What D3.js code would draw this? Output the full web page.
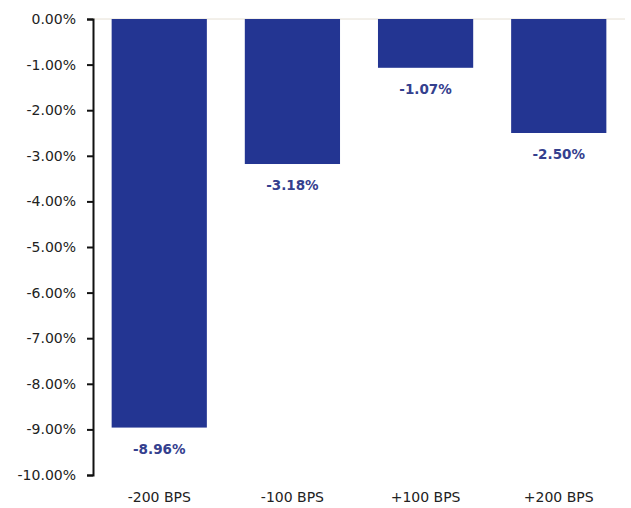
<!DOCTYPE html>
<html>
<head>
<meta charset="utf-8">
<script src="https://cdn.jsdelivr.net/npm/d3@7/dist/d3.min.js"></script>
<style>
  html, body { margin: 0; padding: 0; background: #fff; }
  svg { display: block; }
  text { font-family: "DejaVu Sans", Verdana, sans-serif; }
</style>
</head>
<body>
<svg id="chart" width="631" height="508"></svg>
<script>
// Rate-shock scenarios and the resulting change (%)
const scenarios = ["-200 BPS", "-100 BPS", "+100 BPS", "+200 BPS"];
const changes = [-8.96, -3.18, -1.07, -2.50];
const yTicks = [0, -1, -2, -3, -4, -5, -6, -7, -8, -9, -10];

const svg = d3.select("#chart");
const plotLeft = 93, plotRight = 625, plotTop = 19, plotBottom = 475;

const x = d3.scaleBand().domain(scenarios).range([plotLeft, plotRight])
  .paddingInner(0.285).paddingOuter(0.14);
const y = d3.scaleLinear().domain([0, -10]).range([plotTop, plotBottom]);

const barColor = "#233592";
const labelColor = "#34408e";
// plain hyphen-minus for negative numbers
const pct = d => (d < 0 ? "-" : "") + Math.abs(d).toFixed(2) + "%";

// faint zero baseline
svg.append("line")
  .attr("x1", plotLeft).attr("x2", plotRight)
  .attr("y1", y(0)).attr("y2", y(0))
  .attr("stroke", "#e6e0d4").attr("stroke-width", 1);

// bars
svg.append("g").selectAll("rect")
  .data(changes)
  .join("rect")
  .attr("x", (d, i) => x(scenarios[i]))
  .attr("width", x.bandwidth())
  .attr("y", y(0))
  .attr("height", d => y(d) - y(0))
  .attr("fill", barColor);

// value labels beneath each bar
svg.append("g").selectAll("text")
  .data(changes)
  .join("text")
  .attr("x", (d, i) => x(scenarios[i]) + x.bandwidth() / 2)
  .attr("y", d => y(d) + 26)
  .attr("text-anchor", "middle")
  .attr("font-size", 13.5)
  .attr("font-weight", "bold")
  .attr("fill", labelColor)
  .text(pct);

// y axis
const yAxis = d3.axisLeft(y)
  .tickValues(yTicks)
  .tickSize(6)
  .tickPadding(11)
  .tickFormat(pct);
const gy = svg.append("g").attr("transform", `translate(${plotLeft},0)`).call(yAxis);
gy.select(".domain").attr("stroke", "#111").attr("stroke-width", 2);
gy.selectAll(".tick line").attr("stroke", "#111").attr("stroke-width", 2);
gy.selectAll(".tick text")
  .attr("font-size", 14)
  .attr("font-family", "DejaVu Sans, Verdana, sans-serif")
  .attr("fill", "#222");

// category labels
const xAxis = d3.axisBottom(x).tickSize(0).tickPadding(0);
const gx = svg.append("g").attr("transform", `translate(0,${plotBottom + 14})`).call(xAxis);
gx.select(".domain").remove();
gx.selectAll(".tick text")
  .attr("font-size", 14)
  .attr("font-family", "DejaVu Sans, Verdana, sans-serif")
  .attr("fill", "#222")
  .attr("dy", "0.9em");
</script>
</body>
</html>
